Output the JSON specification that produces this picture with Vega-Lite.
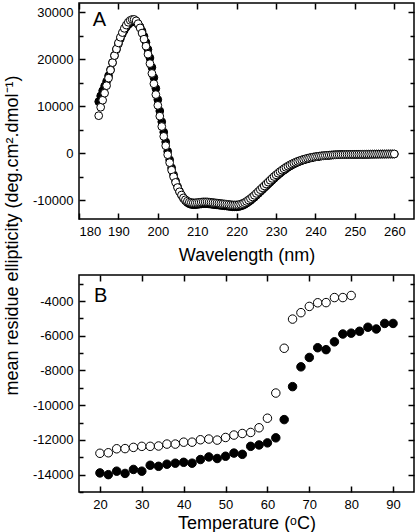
{
  "$schema": "https://vega.github.io/schema/vega-lite/v6.json",
  "padding": {"left": 2, "top": 1, "right": 0, "bottom": 0},
  "bounds": "flush",
  "spacing": 56,
  "background": "white",
  "config": {
    "font": "Liberation Sans",
    "view": {"stroke": "black", "strokeWidth": 1.5},
    "axis": {
      "domain": false, "grid": false,
      "labelFont": "Liberation Sans", "labelFontSize": 13, "labelColor": "black",
      "titleFont": "Liberation Sans", "titleFontSize": 18, "titleFontWeight": "normal", "titleColor": "black",
      "tickColor": "black", "tickWidth": 1.5
    }
  },
  "vconcat": [
    {
      "width": 335,
      "height": 216,
      "data": {"values": [
        {"w":185,"o":8000,"f":11000},{"w":185.5,"o":9800,"f":12200},{"w":186,"o":11300,"f":13300},{"w":186.5,"o":12800,"f":14300},
        {"w":187,"o":14400,"f":15300},{"w":187.5,"o":16000,"f":16500},{"w":188,"o":17700,"f":17800},{"w":188.5,"o":19300,"f":19300},
        {"w":189,"o":20800,"f":20800},{"w":189.5,"o":22200,"f":22100},{"w":190,"o":23500,"f":23300},{"w":190.5,"o":24700,"f":24400},
        {"w":191,"o":25700,"f":25400},{"w":191.5,"o":26600,"f":26200},{"w":192,"o":27300,"f":26900},{"w":192.5,"o":27900,"f":27400},
        {"w":193,"o":28300,"f":27800},{"w":193.5,"o":28500,"f":28000},{"w":194,"o":28500,"f":28000},{"w":194.5,"o":28200,"f":27900},
        {"w":195,"o":27600,"f":27500},{"w":195.5,"o":26700,"f":26900},{"w":196,"o":25600,"f":26000},{"w":196.5,"o":24300,"f":24900},
        {"w":197,"o":22800,"f":23600},{"w":197.5,"o":21100,"f":22100},{"w":198,"o":19100,"f":20300},{"w":198.5,"o":17000,"f":18300},
        {"w":199,"o":14800,"f":16100},{"w":199.5,"o":12500,"f":13800},{"w":200,"o":10200,"f":11400},{"w":200.5,"o":7900,"f":9000},
        {"w":201,"o":5700,"f":6700},{"w":201.5,"o":3600,"f":4500},{"w":202,"o":1600,"f":2400},{"w":202.5,"o":-300,"f":400},
        {"w":203,"o":-2000,"f":-1400},{"w":203.5,"o":-3600,"f":-3100},{"w":204,"o":-5000,"f":-4600},{"w":204.5,"o":-6200,"f":-5900},
        {"w":205,"o":-7300,"f":-7100},{"w":205.5,"o":-8200,"f":-8100},{"w":206,"o":-8900,"f":-8900},{"w":206.5,"o":-9500,"f":-9600},
        {"w":207,"o":-9900,"f":-10100},{"w":207.5,"o":-10200,"f":-10500},{"w":208,"o":-10400,"f":-10750},{"w":208.5,"o":-10500,"f":-10900},
        {"w":209,"o":-10550,"f":-10950},{"w":209.5,"o":-10550,"f":-10950},{"w":210,"o":-10500,"f":-10900},{"w":210.5,"o":-10450,"f":-10850},
        {"w":211,"o":-10400,"f":-10800},{"w":211.5,"o":-10350,"f":-10750},{"w":212,"o":-10350,"f":-10750},{"w":212.5,"o":-10350,"f":-10750},
        {"w":213,"o":-10400,"f":-10800},{"w":213.5,"o":-10450,"f":-10850},{"w":214,"o":-10500,"f":-10900},{"w":214.5,"o":-10550,"f":-10950},
        {"w":215,"o":-10600,"f":-11000},{"w":215.5,"o":-10650,"f":-11050},{"w":216,"o":-10700,"f":-11100},{"w":216.5,"o":-10750,"f":-11150},
        {"w":217,"o":-10800,"f":-11200},{"w":217.5,"o":-10850,"f":-11250},{"w":218,"o":-10900,"f":-11300},{"w":218.5,"o":-10950,"f":-11350},
        {"w":219,"o":-11000,"f":-11400},{"w":219.5,"o":-11000,"f":-11400},{"w":220,"o":-11000,"f":-11400},{"w":220.5,"o":-10950,"f":-11350},
        {"w":221,"o":-10850,"f":-11250},{"w":221.5,"o":-10700,"f":-11100},{"w":222,"o":-10500,"f":-10900},{"w":222.5,"o":-10250,"f":-10650},
        {"w":223,"o":-9950,"f":-10350},{"w":223.5,"o":-9650,"f":-10050},{"w":224,"o":-9300,"f":-9700},{"w":224.5,"o":-8950,"f":-9350},
        {"w":225,"o":-8550,"f":-8950},{"w":225.5,"o":-8150,"f":-8550},{"w":226,"o":-7750,"f":-8150},{"w":226.5,"o":-7350,"f":-7750},
        {"w":227,"o":-6950,"f":-7350},{"w":227.5,"o":-6550,"f":-6950},{"w":228,"o":-6150,"f":-6550},{"w":228.5,"o":-5750,"f":-6150},
        {"w":229,"o":-5350,"f":-5750},{"w":229.5,"o":-4950,"f":-5350},{"w":230,"o":-4600,"f":-4950},{"w":230.5,"o":-4250,"f":-4600},
        {"w":231,"o":-3900,"f":-4250},{"w":231.5,"o":-3600,"f":-3900},{"w":232,"o":-3300,"f":-3600},{"w":232.5,"o":-3000,"f":-3300},
        {"w":233,"o":-2750,"f":-3000},{"w":233.5,"o":-2500,"f":-2750},{"w":234,"o":-2280,"f":-2500},{"w":234.5,"o":-2080,"f":-2280},
        {"w":235,"o":-1900,"f":-2080},{"w":235.5,"o":-1720,"f":-1890},{"w":236,"o":-1560,"f":-1720},{"w":236.5,"o":-1420,"f":-1560},
        {"w":237,"o":-1290,"f":-1420},{"w":237.5,"o":-1170,"f":-1290},{"w":238,"o":-1060,"f":-1170},{"w":238.5,"o":-960,"f":-1060},
        {"w":239,"o":-870,"f":-960},{"w":239.5,"o":-790,"f":-870},{"w":240,"o":-720,"f":-790},{"w":240.5,"o":-660,"f":-720},
        {"w":241,"o":-600,"f":-660},{"w":241.5,"o":-550,"f":-600},{"w":242,"o":-510,"f":-550},{"w":242.5,"o":-470,"f":-510},
        {"w":243,"o":-430,"f":-470},{"w":243.5,"o":-400,"f":-430},{"w":244,"o":-370,"f":-400},{"w":244.5,"o":-340,"f":-370},
        {"w":245,"o":-320,"f":-340},{"w":245.5,"o":-300,"f":-320},{"w":246,"o":-290,"f":-310},{"w":246.5,"o":-280,"f":-300},
        {"w":247,"o":-270,"f":-290},{"w":247.5,"o":-260,"f":-280},{"w":248,"o":-250,"f":-270},{"w":248.5,"o":-245,"f":-265},
        {"w":249,"o":-240,"f":-260},{"w":249.5,"o":-235,"f":-255},{"w":250,"o":-230,"f":-250},{"w":250.5,"o":-225,"f":-245},
        {"w":251,"o":-220,"f":-240},{"w":251.5,"o":-215,"f":-235},{"w":252,"o":-210,"f":-230},{"w":252.5,"o":-205,"f":-225},
        {"w":253,"o":-200,"f":-220},{"w":253.5,"o":-195,"f":-215},{"w":254,"o":-190,"f":-210},{"w":254.5,"o":-185,"f":-205},
        {"w":255,"o":-180,"f":-200},{"w":255.5,"o":-175,"f":-195},{"w":256,"o":-170,"f":-190},{"w":256.5,"o":-165,"f":-185},
        {"w":257,"o":-160,"f":-180},{"w":257.5,"o":-160,"f":-180},{"w":258,"o":-155,"f":-175},{"w":258.5,"o":-150,"f":-170},
        {"w":259,"o":-150,"f":-170},{"w":259.5,"o":-150,"f":-170},{"w":260,"o":-150,"f":-170}
      ]},
      "layer": [
        {
          "mark": {"type": "point", "shape": "circle", "filled": true, "fill": "black", "stroke": "black", "strokeWidth": 1, "size": 60, "opacity": 1},
          "encoding": {
            "x": {"field": "w", "type": "quantitative", "scale": {"domain": [180, 265], "nice": false, "zero": false},
                  "axis": {"orient": "bottom", "values": [180,190,200,210,220,230,240,250,260], "tickSize": -6, "labelPadding": 12,
                           "labelExpr": "'' + datum.value", "title": "Wavelength (nm)", "titleBaseline": "alphabetic", "titleY": 41}},
            "y": {"field": "f", "type": "quantitative", "scale": {"domain": [-14000, 32000], "nice": false, "zero": false},
                  "axis": {"orient": "left", "values": [-10000,-5000,0,5000,10000,15000,20000,25000,30000],
                           "tickSize": {"condition": {"test": "datum.value % 10000 === 0", "value": -6}, "value": -4},
                           "labelPadding": 12,
                           "labelExpr": "datum.value % 10000 === 0 ? '' + datum.value : ''",
                           "title": "mean residue ellipticity (deg.cm².dmol⁻¹)",
                           "titleX": -67, "titleY": 232, "titleAngle": -90, "titleAlign": "center", "titleBaseline": "middle"}}
          }
        },
        {
          "mark": {"type": "point", "shape": "circle", "filled": true, "fill": "white", "stroke": "black", "strokeWidth": 1, "size": 60, "opacity": 1},
          "encoding": {
            "x": {"field": "w", "type": "quantitative", "scale": {"domain": [180, 265], "nice": false, "zero": false},
                  "axis": {"orient": "top", "values": [180,190,200,210,220,230,240,250,260], "tickSize": -6, "labels": false, "title": null}},
            "y": {"field": "o", "type": "quantitative", "scale": {"domain": [-14000, 32000], "nice": false, "zero": false},
                  "axis": {"orient": "right", "values": [-10000,-5000,0,5000,10000,15000,20000,25000,30000],
                           "tickSize": {"condition": {"test": "datum.value % 10000 === 0", "value": -6}, "value": -4},
                           "labels": false, "title": null}}
          }
        },
        {
          "data": {"values": [{"lx": 183.5, "ly": 28400, "t": "A"}]},
          "mark": {"type": "text", "align": "left", "baseline": "middle", "fontSize": 20, "font": "Liberation Sans", "color": "black"},
          "encoding": {
            "x": {"field": "lx", "type": "quantitative", "scale": {"domain": [180, 265], "nice": false, "zero": false}, "axis": null},
            "y": {"field": "ly", "type": "quantitative", "scale": {"domain": [-14000, 32000], "nice": false, "zero": false}, "axis": null},
            "text": {"field": "t"}
          }
        }
      ],
      "resolve": {"axis": {"x": "independent", "y": "independent"}}
    },
    {
      "width": 335,
      "height": 217,
      "data": {"values": [
        {"t":20,"f":-13900,"o":-12770},{"t":22,"f":-14000,"o":-12740},{"t":24,"f":-13800,"o":-12510},{"t":26,"f":-13930,"o":-12500},
        {"t":28,"f":-13700,"o":-12430},{"t":30,"f":-13800,"o":-12370},{"t":32,"f":-13460,"o":-12370},{"t":34,"f":-13520,"o":-12350},
        {"t":36,"f":-13400,"o":-12240},{"t":38,"f":-13340,"o":-12240},{"t":40,"f":-13290,"o":-12130},{"t":42,"f":-13340,"o":-12130},
        {"t":44,"f":-13130,"o":-11990},{"t":46,"f":-12980,"o":-11950},{"t":48,"f":-13070,"o":-12010},{"t":50,"f":-12940,"o":-11860},
        {"t":52,"f":-12760,"o":-11720},{"t":54,"f":-12830,"o":-11630},{"t":56,"f":-12370,"o":-11570},{"t":58,"f":-12290,"o":-11300},
        {"t":60,"f":-12170,"o":-10750},{"t":62,"f":-11880,"o":-9300},{"t":64,"f":-10830,"o":-6720},{"t":66,"f":-8930,"o":-5040},
        {"t":68,"f":-7790,"o":-4670},{"t":70,"f":-7250,"o":-4310},{"t":72,"f":-6690,"o":-4100},{"t":74,"f":-6800,"o":-4090},
        {"t":76,"f":-6350,"o":-3800},{"t":78,"f":-5900,"o":-3800},{"t":80,"f":-5850,"o":-3680},{"t":82,"f":-5740},
        {"t":84,"f":-5510},{"t":86,"f":-5610},{"t":88,"f":-5290},{"t":90,"f":-5290}
      ]},
      "layer": [
        {
          "mark": {"type": "point", "shape": "circle", "filled": true, "fill": "black", "stroke": "black", "strokeWidth": 1, "size": 72, "opacity": 1},
          "encoding": {
            "x": {"field": "t", "type": "quantitative", "scale": {"domain": [15, 95], "nice": false, "zero": false},
                  "axis": {"orient": "bottom", "values": [20,30,40,50,60,70,80,90], "tickSize": -6, "labelPadding": 12,
                           "labelExpr": "'' + datum.value", "title": "Temperature (ᵒC)", "titleBaseline": "alphabetic", "titleY": 36.5}},
            "y": {"field": "f", "type": "quantitative", "scale": {"domain": [-15000, -2500], "nice": false, "zero": false},
                  "axis": {"orient": "left", "values": [-15000,-14000,-13000,-12000,-11000,-10000,-9000,-8000,-7000,-6000,-5000,-4000,-3000],
                           "tickSize": {"condition": {"test": "datum.value % 2000 === 0", "value": -6}, "value": -4},
                           "labelPadding": 12,
                           "labelExpr": "datum.value % 2000 === 0 ? '' + datum.value : ''",
                           "title": null}}
          }
        },
        {
          "transform": [{"filter": "isValid(datum.o)"}],
          "mark": {"type": "point", "shape": "circle", "filled": true, "fill": "white", "stroke": "black", "strokeWidth": 1, "size": 72, "opacity": 1},
          "encoding": {
            "x": {"field": "t", "type": "quantitative", "scale": {"domain": [15, 95], "nice": false, "zero": false},
                  "axis": {"orient": "top", "values": [20,30,40,50,60,70,80,90], "tickSize": -6, "labels": false, "title": null}},
            "y": {"field": "o", "type": "quantitative", "scale": {"domain": [-15000, -2500], "nice": false, "zero": false},
                  "axis": {"orient": "right", "values": [-14000,-13000,-12000,-11000,-10000,-9000,-8000,-7000,-6000,-5000,-4000,-3000],
                           "tickSize": {"condition": {"test": "datum.value % 2000 === 0", "value": -6}, "value": -4},
                           "labels": false, "title": null}}
          }
        },
        {
          "data": {"values": [{"lx": 18.6, "ly": -3720, "t": "B"}]},
          "mark": {"type": "text", "align": "left", "baseline": "middle", "fontSize": 20, "font": "Liberation Sans", "color": "black"},
          "encoding": {
            "x": {"field": "lx", "type": "quantitative", "scale": {"domain": [15, 95], "nice": false, "zero": false}, "axis": null},
            "y": {"field": "ly", "type": "quantitative", "scale": {"domain": [-15000, -2500], "nice": false, "zero": false}, "axis": null},
            "text": {"field": "t"}
          }
        }
      ],
      "resolve": {"axis": {"x": "independent", "y": "independent"}}
    }
  ]
}
